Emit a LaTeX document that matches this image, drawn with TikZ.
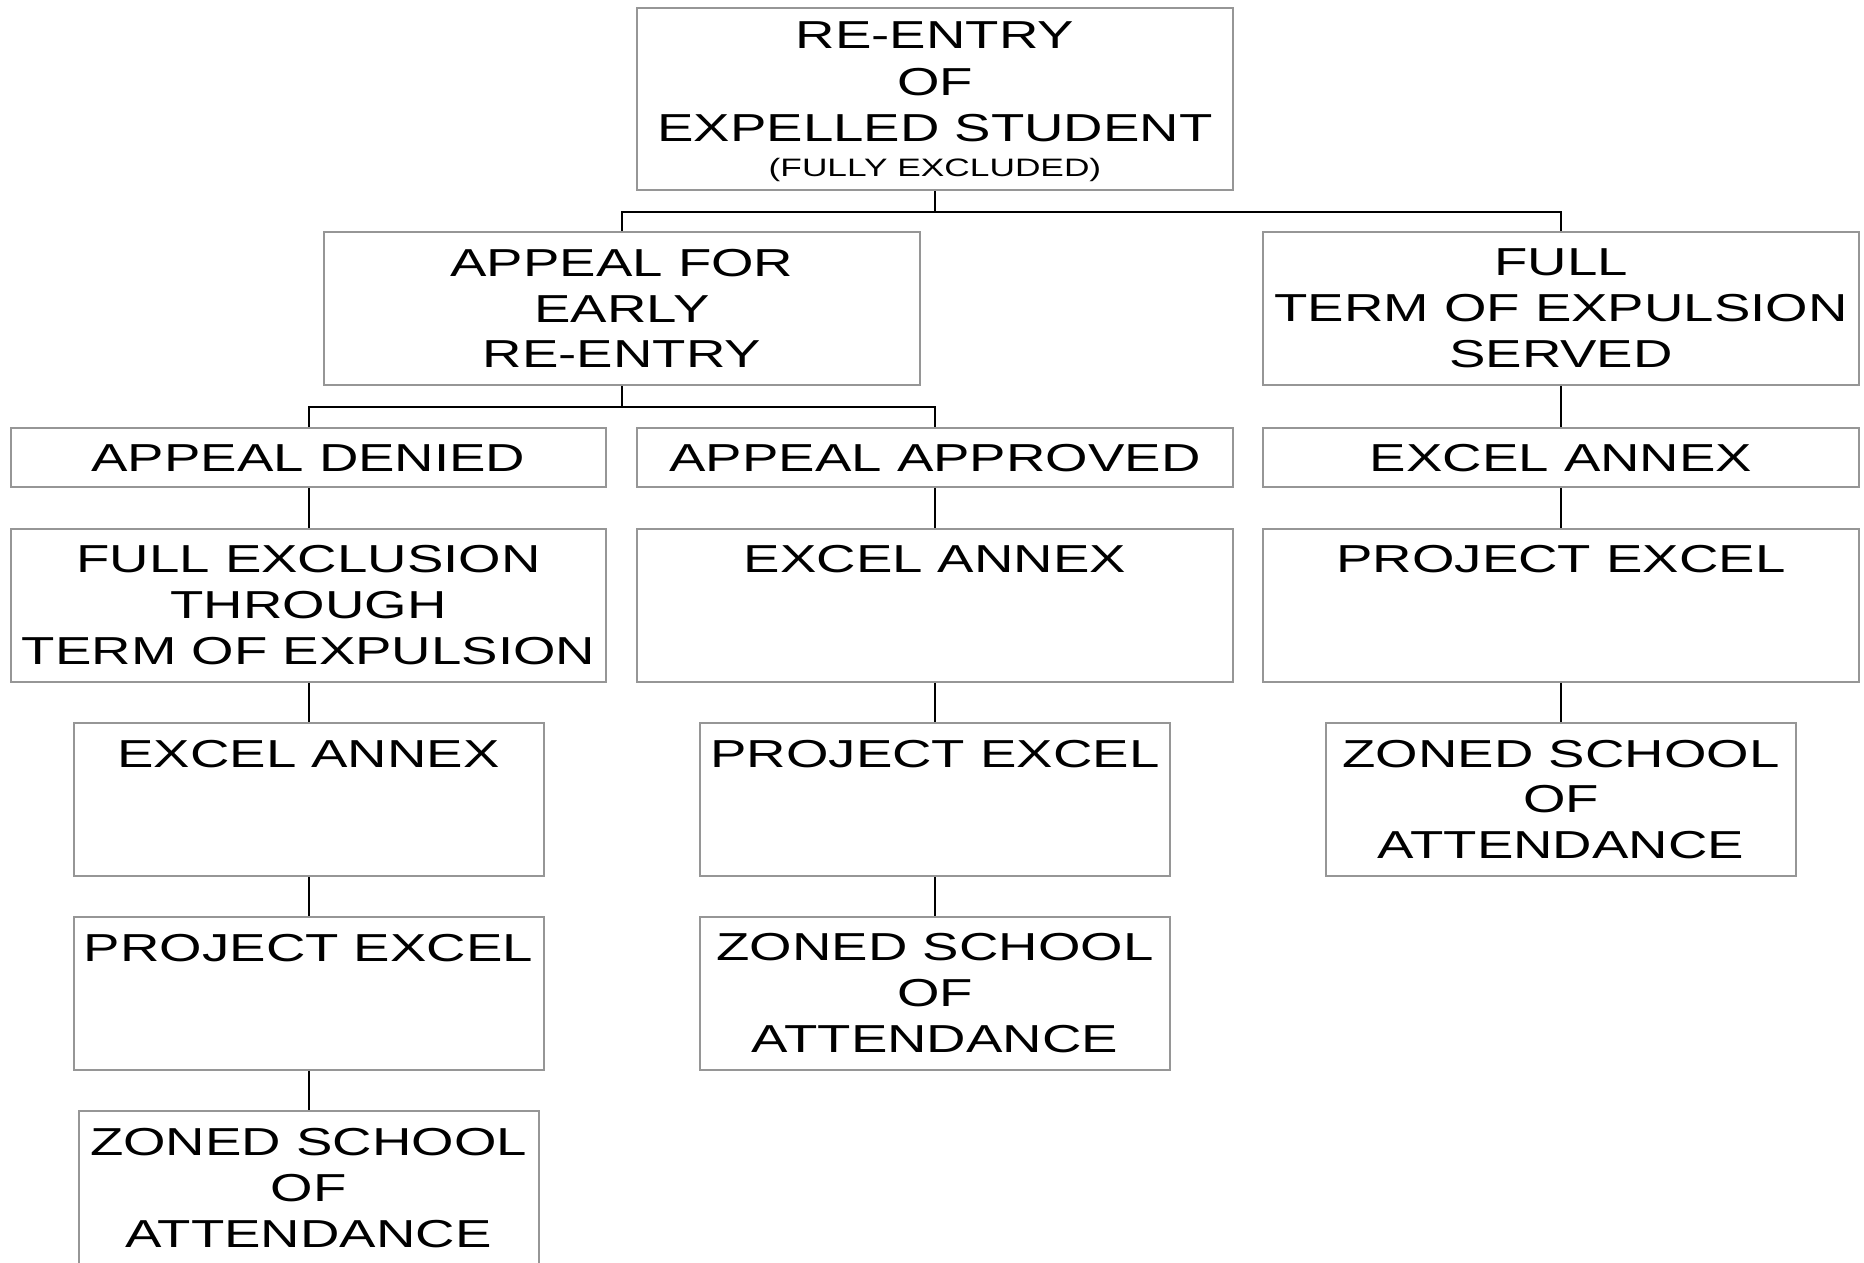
\documentclass[tikz,border=0pt]{standalone}
\usepackage{fontspec}
\setmainfont{Liberation Sans}[FakeStretch=1.40]
\definecolor{boxgray}{RGB}{150,150,150}
\begin{document}
\begin{tikzpicture}[x=0.5pt,y=-0.5pt,
  box/.style={draw=boxgray, line width=1pt, inner sep=0pt, align=center,
    font=\fontsize{19.5}{22.9}\selectfont},
  bw/.style={minimum width=297.8pt},
  nw/.style={minimum width=235pt},
  tall/.style={minimum height=76.6pt},
  short/.style={minimum height=29.7pt},
  conn/.style={draw=black, line width=1pt}]
\fill[white] (0,0) rectangle (1864,1263);
\useasboundingbox (0,0) rectangle (1864,1263);
% level 1
\node[box, bw, minimum height=91pt, text depth=-3.3pt] (top) at (935,99)
  {RE-ENTRY\\[0.4pt]OF\\[0.4pt]EXPELLED STUDENT\\[-5.6pt]{\fontsize{12.6}{15}\selectfont (FULLY EXCLUDED)}};
% level 2
\node[box, bw, tall] (appeal) at (622,308.5) {APPEAL FOR\\EARLY\\RE-ENTRY};
\node[box, bw, tall] (fullterm) at (1561,308.5) {FULL\\TERM OF EXPULSION\\SERVED};
% level 3
\node[box, bw, short] (denied) at (308.5,457.7) {APPEAL DENIED};
\node[box, bw, short] (approved) at (935,457.7) {APPEAL APPROVED};
\node[box, bw, short] (annexR) at (1561,457.7) {EXCEL ANNEX};
% level 4
\node[box, bw, tall] (fullex) at (308.5,605.1) {FULL EXCLUSION\\THROUGH\\TERM OF EXPULSION};
\node[box, bw, tall] (annexM) at (935,605.1) {EXCEL ANNEX\\\vphantom{X}\\\vphantom{X}};
\node[box, bw, tall] (projR) at (1561,605.1) {PROJECT EXCEL\\\vphantom{X}\\\vphantom{X}};
% level 5
\node[box, nw, tall] (annexL) at (308.5,799.5) {EXCEL ANNEX\\\vphantom{X}\\\vphantom{X}};
\node[box, nw, tall] (projM) at (935,799.5) {PROJECT EXCEL\\\vphantom{X}\\\vphantom{X}};
\node[box, nw, tall] (zonedR) at (1561,799.5) {ZONED SCHOOL\\OF\\ATTENDANCE};
% level 6
\node[box, nw, tall] (projL) at (308.5,993.3) {PROJECT EXCEL\\\vphantom{X}\\\vphantom{X}};
\node[box, nw, tall] (zonedM) at (935,993.3) {ZONED SCHOOL\\OF\\ATTENDANCE};
% level 7
\node[box, minimum width=230pt, tall] (zonedL) at (308.5,1188) {ZONED SCHOOL\\OF\\ATTENDANCE};
% connectors
\coordinate (j1) at (935,212);
\coordinate (j2) at (622,407);
\draw[conn] (top.south) -- (j1);
\draw[conn] (appeal.north) |- (j1) -| (fullterm.north);
\draw[conn] (appeal.south) -- (j2);
\draw[conn] (denied.north) |- (j2) -| (approved.north);
\draw[conn] (fullterm.south) -- (annexR.north);
\draw[conn] (annexR.south) -- (projR.north);
\draw[conn] (projR.south) -- (zonedR.north);
\draw[conn] (approved.south) -- (annexM.north);
\draw[conn] (annexM.south) -- (projM.north);
\draw[conn] (projM.south) -- (zonedM.north);
\draw[conn] (denied.south) -- (fullex.north);
\draw[conn] (fullex.south) -- (annexL.north);
\draw[conn] (annexL.south) -- (projL.north);
\draw[conn] (projL.south) -- (zonedL.north);
\end{tikzpicture}
\end{document}
